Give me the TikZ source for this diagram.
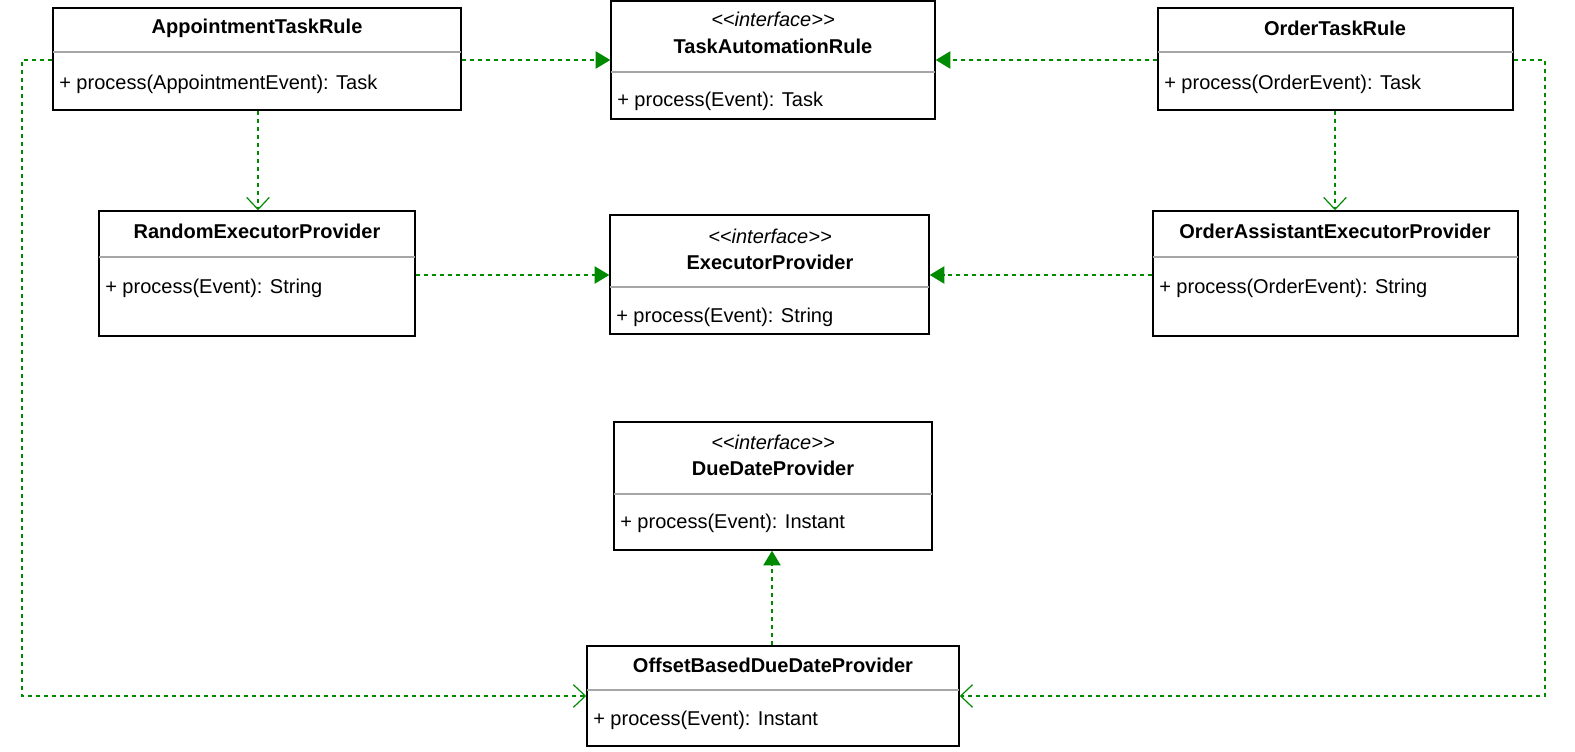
\documentclass[tikz,border=0pt]{standalone}
\usepackage{fontspec}
\setmainfont{Liberation Sans}[Ligatures=TeXOff]
\usetikzlibrary{arrows.meta,fit}
\definecolor{grn}{HTML}{008A00}
\newcommand{\ifc}{<<interface>>}
\begin{document}
\begin{tikzpicture}[x=0.75pt,y=-0.75pt,
  box/.style={draw=black,line width=1.1pt,inner sep=0pt,fill=white},
  sep/.style={draw=gray!70,line width=0.8pt},
  ttl/.style={font=\fontsize{15}{18}\selectfont\bfseries,inner sep=0pt},
  st/.style={font=\fontsize{15}{18}\selectfont\itshape,inner sep=0pt},
  mth/.style={font=\fontsize{15}{18}\selectfont,inner sep=0pt,anchor=west},
  dep/.style={draw=grn,line width=0.9pt,dash pattern=on 3pt off 3pt},
  real/.style={dep,-{Triangle[length=11pt,width=13pt,fill=grn]}},
  use/.style={dep,-{Straight Barb[length=9pt,width=17pt,line width=0.9pt]}}]
\useasboundingbox (0,0) rectangle (1575,752);
% AppointmentTaskRule
\node[box,fit={(53,8)(461,110)}] (atr) {};
\draw[sep] (53,52) -- (461,52);
\node[ttl] (atrT) at (257,28) {AppointmentTaskRule};
\node[mth] (atrM) at (59,84) {+ process(AppointmentEvent): Task};
% TaskAutomationRule
\node[box,fit={(611,1)(935,119)}] (tar) {};
\draw[sep] (611,72) -- (935,72);
\node[st] (tarS) at (773,19) {\ifc};
\node[ttl] (tarT) at (773,46) {TaskAutomationRule};
\node[mth] (tarM) at (617,101) {+ process(Event): Task};
% OrderTaskRule
\node[box,fit={(1158,8)(1513,110)}] (otr) {};
\draw[sep] (1158,52) -- (1513,52);
\node[ttl] (otrT) at (1335,28) {OrderTaskRule};
\node[mth] (otrM) at (1164,84) {+ process(OrderEvent): Task};
% RandomExecutorProvider
\node[box,fit={(99,211)(415,336)}] (rep) {};
\draw[sep] (99,257) -- (415,257);
\node[ttl] (repT) at (257,231) {RandomExecutorProvider};
\node[mth] (repM) at (105,288) {+ process(Event): String};
% ExecutorProvider
\node[box,fit={(610,215)(929,334)}] (ep) {};
\draw[sep] (610,287) -- (929,287);
\node[st] (epS) at (770,236) {\ifc};
\node[ttl] (epT) at (770,262) {ExecutorProvider};
\node[mth] (epM) at (616,317) {+ process(Event): String};
% OrderAssistantExecutorProvider
\node[box,fit={(1153,211)(1518,336)}] (oaep) {};
\draw[sep] (1153,257) -- (1518,257);
\node[ttl] (oaepT) at (1335,231) {OrderAssistantExecutorProvider};
\node[mth] (oaepM) at (1159,288) {+ process(OrderEvent): String};
% DueDateProvider
\node[box,fit={(614,422)(932,550)}] (ddp) {};
\draw[sep] (614,494) -- (932,494);
\node[st] (ddpS) at (773,442) {\ifc};
\node[ttl] (ddpT) at (773,468) {DueDateProvider};
\node[mth] (ddpM) at (620,523) {+ process(Event): Instant};
% OffsetBasedDueDateProvider
\node[box,fit={(587,646)(959,746)}] (obd) {};
\draw[sep] (587,690) -- (959,690);
\node[ttl] (obdT) at (773,665) {OffsetBasedDueDateProvider};
\node[mth] (obdM) at (593,720) {+ process(Event): Instant};
% connectors
\draw[real] (atr.east |- 0,60) -- (tar.west |- 0,60);
\draw[real] (otr.west |- 0,60) -- (tar.east |- 0,60);
\draw[use] (atr.south -| 258,0) -- (rep.north -| 258,0);
\draw[use] (otr.south -| 1335,0) -- (oaep.north -| 1335,0);
\draw[real] (rep.east |- 0,275) -- (ep.west |- 0,275);
\draw[real] (oaep.west |- 0,275) -- (ep.east |- 0,275);
\draw[real] (obd.north -| 772,0) -- (ddp.south -| 772,0);
\coordinate (l1) at (22,60); \coordinate (l2) at (22,696);
\coordinate (r1) at (1545,60); \coordinate (r2) at (1545,696);
\draw[use] (atr.west |- 0,60) -- (l1) -- (l2) -- (obd.west |- 0,696);
\draw[use] (otr.east |- 0,60) -- (r1) -- (r2) -- (obd.east |- 0,696);
\end{tikzpicture}
\end{document}
